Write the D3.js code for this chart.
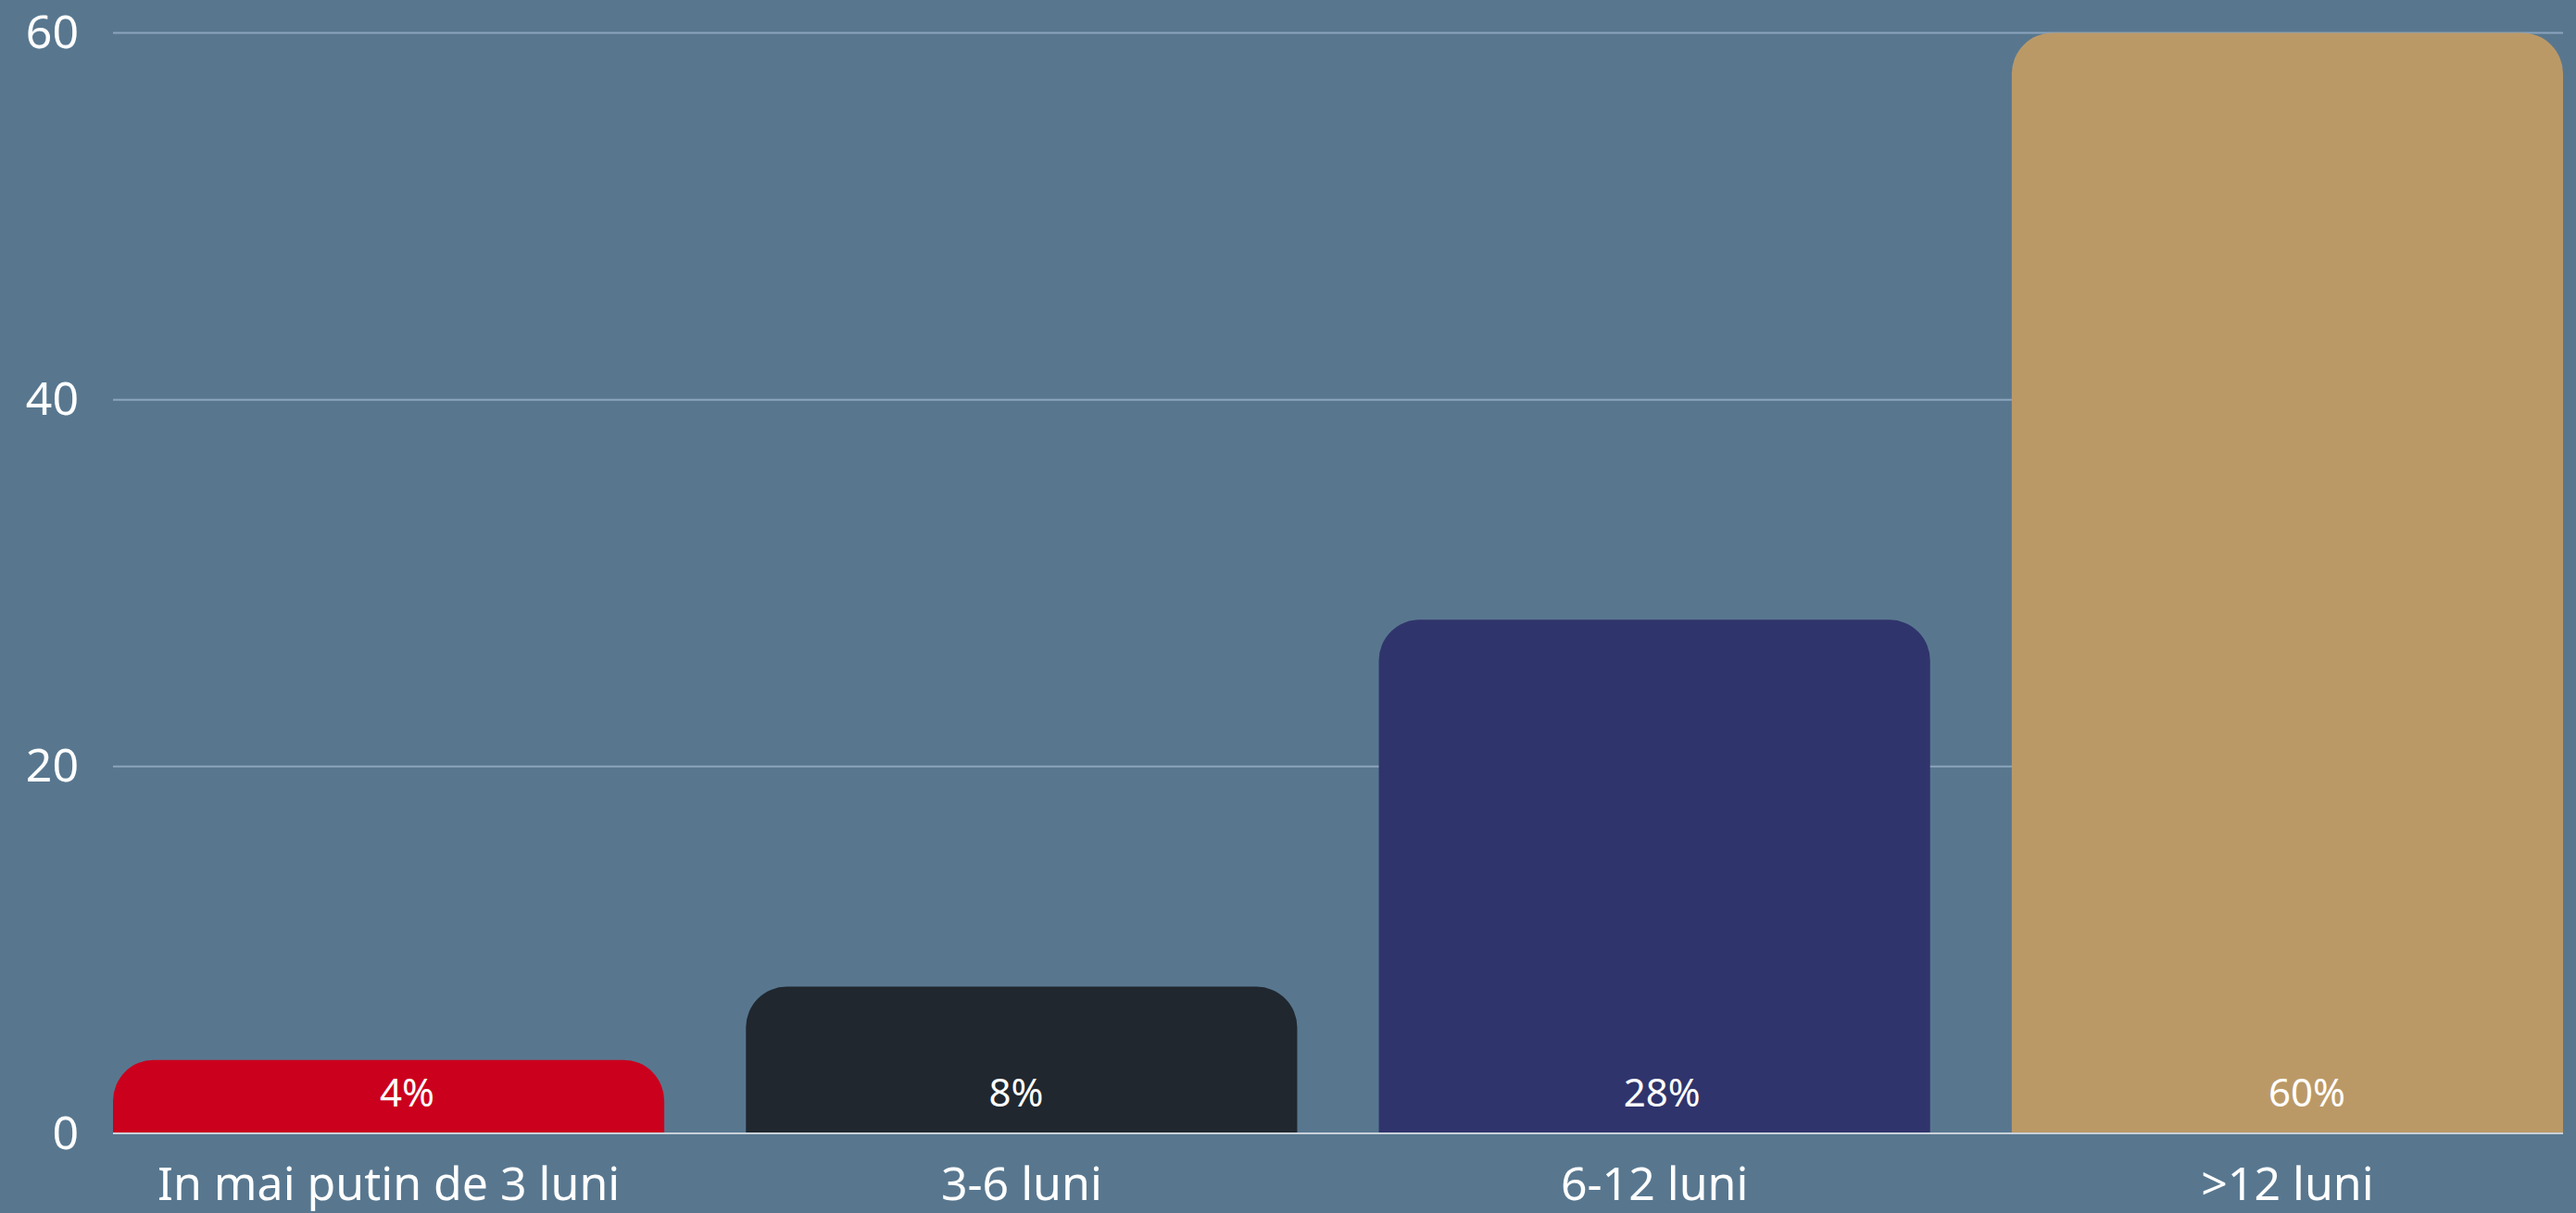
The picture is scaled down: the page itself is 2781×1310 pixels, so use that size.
<!DOCTYPE html>
<html>
<head>
<meta charset="utf-8">
<script src="https://cdn.jsdelivr.net/npm/d3@7"></script>
<style>
  body { margin: 0; background: #58778f; }
  text { font-family: "Noto Sans", "Open Sans", sans-serif; fill: #fff; }
</style>
</head>
<body>
<div id="app"></div>
<script>
// data
const categories = ["In mai putin de 3 luni", "3-6 luni", "6-12 luni", ">12 luni"];
const values = [4, 8, 28, 60];
const valueLabels = ["4%", "8%", "28%", "60%"];
const barColors = ["#cb001d", "#20272f", "#30346c", "#bb9967"];
const yTicks = [0, 20, 40, 60];

// layout
const w = 2781, h = 1310;
const padLeft = 122, padRight = 2767, padTop = 35.5, padBottom = 1224;
const radius = 44;
const labelShift = [20, -6, 8, 21];

const svg = d3.select("#app")
  .append("svg")
  .attr("width", w)
  .attr("height", h)
  .style("display", "block")
  .style("background-color", "#58778f");

const x = d3.scaleBand()
  .domain(categories)
  .range([padLeft, padRight])
  .paddingInner(0.129)
  .paddingOuter(0);

const y = d3.scaleLinear()
  .domain([0, 60])
  .range([padBottom, padTop]);

// grid
svg.append("g")
  .selectAll("line")
  .data(yTicks.filter(d => d > 0))
  .enter()
  .append("line")
  .attr("x1", padLeft)
  .attr("x2", padRight)
  .attr("y1", d => y(d))
  .attr("y2", d => y(d))
  .attr("stroke", "#8ba4bd")
  .attr("stroke-width", 2);

// y axis labels
const yAxis = d3.axisLeft(y).tickValues(yTicks).tickSize(0).tickPadding(0);
svg.append("g")
  .attr("id", "y-axis")
  .attr("transform", "translate(" + 85 + ",0)")
  .call(yAxis)
  .call(g => g.select(".domain").remove())
  .selectAll("text")
  .style("font-size", "50px")
  .attr("fill", "#fff");

// bars, only the top corners rounded
function barPath(x0, y0, bw, y1) {
  const r = Math.min(radius, (y1 - y0), bw / 2);
  return "M" + x0 + "," + y1 +
    "L" + x0 + "," + (y0 + r) +
    "A" + r + "," + r + " 0 0 1 " + (x0 + r) + "," + y0 +
    "L" + (x0 + bw - r) + "," + y0 +
    "A" + r + "," + r + " 0 0 1 " + (x0 + bw) + "," + (y0 + r) +
    "L" + (x0 + bw) + "," + y1 + "Z";
}

const data = categories.map((c, i) => ({ cat: c, val: values[i], label: valueLabels[i], color: barColors[i], i: i }));

svg.append("g")
  .selectAll("path")
  .data(data)
  .enter()
  .append("path")
  .attr("d", d => barPath(x(d.cat), y(d.val), x.bandwidth(), y(0)))
  .attr("fill", d => d.color);

// baseline
svg.append("line")
  .attr("x1", padLeft)
  .attr("x2", padRight)
  .attr("y1", y(0))
  .attr("y2", y(0))
  .attr("stroke", "#c9d1d9")
  .attr("stroke-width", 2);

// value labels
svg.append("g")
  .selectAll("text")
  .data(data)
  .enter()
  .append("text")
  .attr("x", d => x(d.cat) + x.bandwidth() / 2 + labelShift[d.i])
  .attr("y", y(0) - 29)
  .attr("text-anchor", "middle")
  .style("font-size", "42px")
  .text(d => d.label);

// x axis labels
const xAxis = d3.axisBottom(x).tickSize(0).tickPadding(0);
svg.append("g")
  .attr("id", "x-axis")
  .attr("transform", "translate(0," + padBottom + ")")
  .call(xAxis)
  .call(g => g.select(".domain").remove())
  .selectAll("text")
  .attr("dy", null)
  .attr("y", 72)
  .style("font-size", "50px")
  .attr("fill", "#fff");
</script>
</body>
</html>
